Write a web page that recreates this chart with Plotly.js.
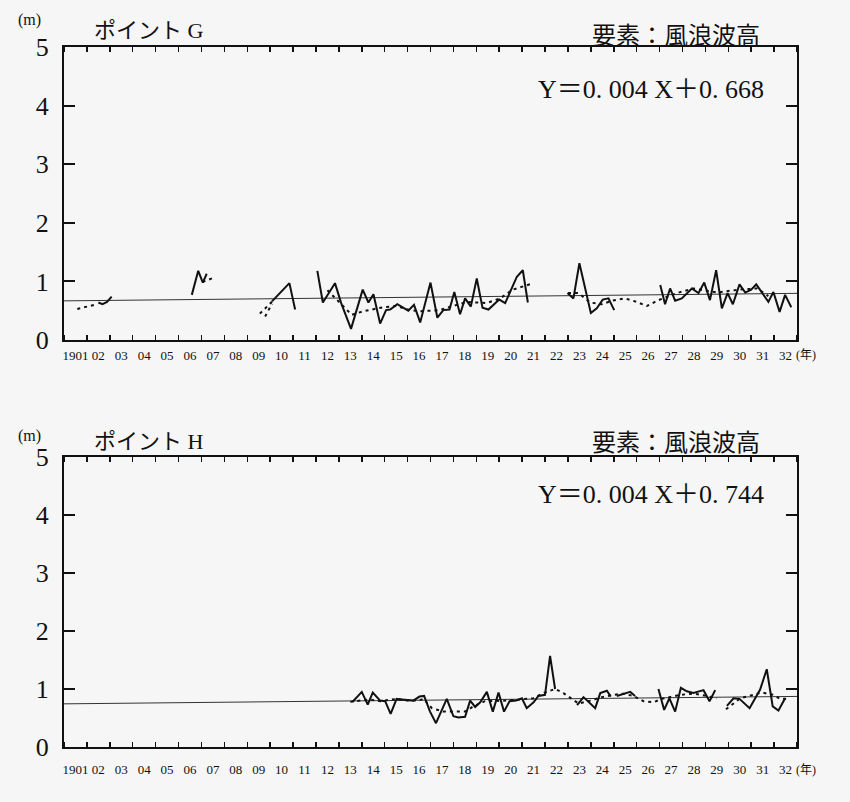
<!DOCTYPE html>
<html><head><meta charset="utf-8">
<script src="https://cdn.plot.ly/plotly-3.0.1.min.js"></script>
<style>html,body{margin:0;padding:0;background:#f6f6f6;}#chart{width:850px;height:802px;}</style>
</head><body><div id="chart"></div>
<script>
// ---- data ----
const yearLabels = ['1901','02','03','04','05','06','07','08','09','10','11','12','13','14','15','16','17','18','19','20','21','22','23','24','25','26','27','28','29','30','31','32'];
const startYear = 1901;
const yTicks = [0,1,2,3,4,5];

const gTrend = {slope: 0.004, intercept: 0.668};
const hTrend = {slope: 0.004, intercept: 0.744};

const gSolidX = [1902.50,1902.68,1902.88,1903.08,null,
 1906.58,1906.86,1907.06,1907.23,null,
 1910.08,1910.84,1911.09,null,
 1912.06,1912.30,1912.83,1913.10,1913.53,1914.04,1914.29,1914.51,1914.80,1915.06,1915.24,1915.55,1916.03,1916.28,1916.55,1917.00,1917.30,1917.56,1917.83,1918.04,1918.29,1918.51,1918.76,1919.02,1919.27,1919.53,1920.00,1920.26,1920.77,1921.03,1921.25,null,
 1922.98,1923.24,1923.50,1924.00,1924.26,1924.52,1924.77,1925.02,null,
 1927.03,1927.24,1927.46,1927.68,1927.97,1928.41,1928.70,1928.95,1929.20,1929.47,1929.72,1929.97,1930.20,1930.49,1930.74,1931.00,1931.22,1931.47,1931.75,1931.97,1932.24,1932.48,1932.75];
const gSolidY = [0.64,0.61,0.65,0.74,null,
 0.77,1.18,0.98,1.13,null,
 0.66,0.97,0.52,null,
 1.18,0.64,0.97,0.63,0.19,0.86,0.64,0.78,0.28,0.51,0.52,0.61,0.50,0.60,0.30,0.98,0.38,0.51,0.52,0.82,0.44,0.71,0.57,1.05,0.55,0.52,0.69,0.63,1.08,1.19,0.64,null,
 0.80,0.71,1.31,0.46,0.54,0.69,0.71,0.51,null,
 0.94,0.61,0.88,0.67,0.71,0.88,0.80,0.98,0.68,1.19,0.54,0.80,0.61,0.95,0.81,0.86,0.95,0.80,0.65,0.82,0.48,0.77,0.56];

const gDotX = [1901.58,1902.43,null, 1907.05,1907.52,null, 1909.55,1910.20,null, 1909.78,1910.08,null,
 1912.50,1913.56,1914.07,1914.94,1915.50,1916.10,1916.55,1917.40,1917.80,1918.60,1919.45,1920.04,1920.60,1921.50,null,
 1923.00,1923.46,1923.97,1924.48,1924.92,1925.50,1926.00,1926.45,1926.95,1927.75,1928.48,1929.50,1930.08,1930.52,1931.25,1931.75];
const gDotY = [0.53,0.61,null, 0.99,1.06,null, 0.45,0.70,null, 0.40,0.62,null,
 0.85,0.43,0.49,0.56,0.58,0.51,0.49,0.51,0.56,0.65,0.63,0.71,0.86,0.97,null,
 0.80,0.80,0.64,0.61,0.67,0.71,0.65,0.58,0.68,0.80,0.88,0.81,0.84,0.86,0.88,0.75];

const hSolidX = [1913.60,1914.00,1914.26,1914.48,1914.80,1915.02,1915.26,1915.52,1915.75,1916.25,1916.52,1916.72,1916.98,1917.24,1917.71,1918.00,1918.22,1918.51,1918.73,1918.95,1919.17,1919.46,1919.72,1919.97,1920.21,1920.45,1920.74,1920.99,1921.20,1921.50,1921.71,1922.00,1922.22,1922.44,null,
 1923.40,1923.68,1924.19,1924.41,1924.70,1924.87,null,
 1925.13,1925.72,1925.93,null,
 1926.95,1927.20,1927.43,1927.68,1927.93,1928.19,1928.48,1928.92,1929.18,1929.43,null,
 1929.94,1930.23,1930.49,1930.93,1931.39,1931.68,1931.94,1932.19,1932.48];
const hSolidY = [0.78,0.95,0.73,0.94,0.80,0.79,0.57,0.83,0.82,0.80,0.87,0.88,0.61,0.41,0.83,0.53,0.51,0.52,0.80,0.69,0.77,0.95,0.61,0.94,0.61,0.79,0.80,0.84,0.67,0.77,0.88,0.90,1.57,1.00,null,
 0.72,0.86,0.67,0.93,0.97,0.87,null,
 0.88,0.95,0.88,null,
 1.00,0.64,0.84,0.61,1.02,0.96,0.93,0.98,0.79,0.98,null,
 0.71,0.84,0.83,0.67,0.99,1.34,0.70,0.63,0.84];

const hDotX = [1913.50,1914.36,1914.80,1915.53,1915.97,1916.47,1916.69,1917.06,1917.56,1918.51,1918.87,1919.38,1920.33,1921.49,1921.93,1922.44,1922.80,1923.17,1923.46,1923.97,1924.48,1924.99,1925.42,1925.86,1926.30,1926.73,1927.10,1927.90,1928.48,1929.06,1929.50,null,
 1929.90,1930.52,1931.10,1931.46,1931.97,1932.26,1932.55];
const hDotY = [0.78,0.82,0.79,0.83,0.80,0.80,0.83,0.67,0.61,0.61,0.70,0.79,0.80,0.84,0.93,1.00,0.93,0.83,0.75,0.80,0.86,0.90,0.92,0.88,0.79,0.77,0.83,0.90,0.92,0.88,0.84,null,
 0.65,0.84,0.90,0.94,0.90,0.83,0.83];

// ---- build ----
const endYear = startYear + yearLabels.length;
const xRange = [startYear, endYear];
const centers = yearLabels.map((_, i) => startYear + i + 0.5);
const trendX = xRange.slice();
const trendY = t => trendX.map(x => t.intercept + t.slope * (x - startYear));

const SERIF = 'Liberation Serif, DejaVu Serif, serif';
const JP = 'Liberation Serif, Noto Sans CJK JP, serif';
const INK = '#111';

function trace(x, y, xa, ya, style) {
  return Object.assign({x, y, xaxis: xa, yaxis: ya, type: 'scatter', mode: 'lines',
    hoverinfo: 'skip', showlegend: false, connectgaps: false}, style);
}
const solid = {line: {color: INK, width: 2}};
const dotted = {line: {color: INK, width: 2, dash: '3px,4px'}};
const thin = {line: {color: '#333', width: 1}};

const data = [
  trace(trendX, trendY(gTrend), 'x', 'y', thin),
  trace(gDotX, gDotY, 'x', 'y', dotted),
  trace(gSolidX, gSolidY, 'x', 'y', solid),
  trace(trendX, trendY(hTrend), 'x2', 'y2', thin),
  trace(hDotX, hDotY, 'x2', 'y2', dotted),
  trace(hSolidX, hSolidY, 'x2', 'y2', solid),
];

function xaxis(anchor, standoff) {
  return {anchor, range: xRange, domain: [0, 1], showgrid: false, zeroline: false,
    showline: true, linecolor: INK, linewidth: 2, mirror: 'ticks',
    tickmode: 'array', tickvals: centers, ticktext: yearLabels, ticks: '', tickangle: 0,
    tickfont: {family: SERIF, size: 13, color: INK}, ticklabelstandoff: standoff,
    minor: {tick0: startYear, dtick: 1, ticks: 'inside', ticklen: 5, tickwidth: 1.5, tickcolor: INK, showgrid: false},
    fixedrange: true};
}
function yaxis(anchor, domain) {
  return {anchor, domain, range: [0, 5], showgrid: false, zeroline: false,
    showline: true, linecolor: INK, linewidth: 2, mirror: 'ticks',
    tickmode: 'array', tickvals: yTicks, ticks: 'inside', ticklen: 11, tickwidth: 2, tickcolor: INK,
    tickfont: {family: SERIF, size: 26, color: INK}, ticklabelstandoff: 8, fixedrange: true};
}

const L = 64, R = 797, T = 47, B = 747;
const px = v => (v - L) / (R - L);
const py = v => (B - v) / (B - T);

function ann(text, x, y, size, xanchor, family) {
  return {text, x: px(x), y: py(y), xref: 'paper', yref: 'paper', showarrow: false,
    xanchor: xanchor || 'left', yanchor: 'middle', font: {family: family || JP, size, color: INK}};
}

const layout = {
  width: 850, height: 802,
  margin: {l: L, r: 850 - R, t: T, b: 802 - B},
  paper_bgcolor: '#f6f6f6', plot_bgcolor: '#f6f6f6',
  xaxis: xaxis('y', 2), yaxis: yaxis('x', [py(340), 1]),
  xaxis2: xaxis('y2', 9), yaxis2: yaxis('x2', [0, py(457)]),
  annotations: [
    ann('(m)', 16, 20, 16, 'left', SERIF),
    ann('ポイント G', 92, 31, 22),
    ann('要素：風浪波高', 762, 36, 24, 'right'),
    ann('Y＝0. 004 X＋0. 668', 766, 89, 26, 'right'),
    ann('(年)', 794, 355, 12, 'left'),
    ann('(m)', 16, 436, 16, 'left', SERIF),
    ann('ポイント H', 92, 441, 22),
    ann('要素：風浪波高', 762, 443, 24, 'right'),
    ann('Y＝0. 004 X＋0. 744', 766, 494, 26, 'right'),
    ann('(年)', 794, 770, 12, 'left'),
  ]
};

Plotly.newPlot('chart', data, layout, {displayModeBar: false, staticPlot: true});
</script>
</body></html>
